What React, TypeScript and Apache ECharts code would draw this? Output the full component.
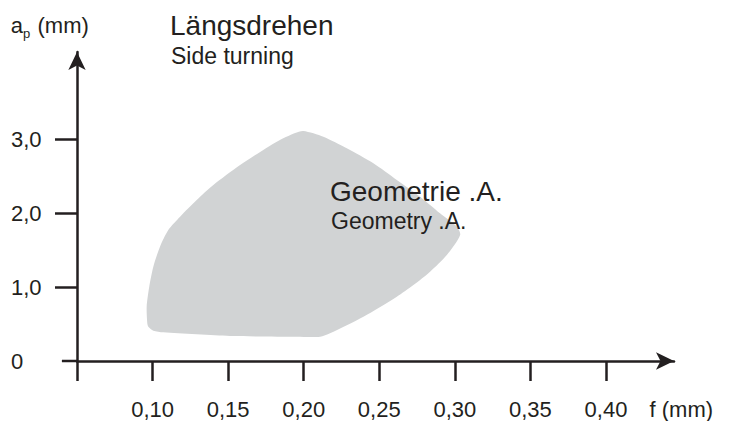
import React, { useEffect, useRef } from "react";
import * as echarts from "echarts";

// Tick positions and labels
const xTickValues = [0.05, 0.1, 0.15, 0.2, 0.25, 0.3, 0.35, 0.4];
const xLabelValues = [0.1, 0.15, 0.2, 0.25, 0.3, 0.35, 0.4];
const yTickValues = [1, 2, 3];
const yLabelValues = [0, 1, 2, 3];

// Outline of the application area "Geometrie .A." (f in mm, ap in mm)
const shapeF = [
  0.1998, 0.213, 0.2285, 0.2461, 0.2616, 0.277, 0.2902, 0.3013, 0.3035, 0.2947,
  0.2836, 0.2726, 0.2616, 0.2395, 0.2174, 0.2108, 0.1954, 0.1513, 0.1071, 0.1005,
  0.0972, 0.0965, 0.0961, 0.0978, 0.1005, 0.1049, 0.1104, 0.1182, 0.1292, 0.1402,
  0.1579, 0.1822, 0.1943,
];
const shapeA = [
  3.111, 3.034, 2.877, 2.674, 2.449, 2.223, 1.998, 1.817, 1.705, 1.434,
  1.208, 1.028, 0.87, 0.599, 0.375, 0.329, 0.329, 0.338, 0.388, 0.41,
  0.464, 0.51, 0.735, 1.005, 1.276, 1.546, 1.772, 1.952, 2.178, 2.381,
  2.652, 2.967, 3.084,
];

// x axis line extension to the left of the y axis
const axisExtF = [0.04, 0.05];

const FONT = "'Liberation Sans', Arial, Helvetica, sans-serif";
const INK = "#231f20";
const FILL = "#d1d3d4";

export default function App() {
  const ref = useRef<HTMLDivElement>(null);

  useEffect(() => {
    if (!ref.current) return;
    const chart = echarts.init(ref.current, null, { renderer: "svg" });
    const txt = (text: string, x: number, baseline: number, size: number) => ({
      type: "text",
      x,
      y: baseline - 0.3465 * size,
      z: 100,
      style: {
        text,
        fontSize: size,
        fontFamily: FONT,
        fill: INK,
        align: "left",
        verticalAlign: "middle",
      },
    });
    chart.setOption({
      animation: false,
      grid: {
        left: 77,
        right: 55,
        top: 52,
        bottom: 60,
        containLabel: false,
        outerBoundsMode: "none",
      },
      xAxis: {
        type: "value",
        min: 0.05,
        max: 0.445,
        splitLine: { show: false },
        axisLine: {
          show: true,
          onZero: false,
          symbol: ["none", "arrow"],
          symbolSize: [13, 18],
          lineStyle: { color: INK, width: 2.5 },
        },
        axisTick: {
          show: true,
          length: 20,
          inside: false,
          customValues: xTickValues,
          lineStyle: { color: INK, width: 2.5 },
        },
        axisLabel: {
          customValues: xLabelValues,
          margin: 37,
          fontSize: 22,
          fontFamily: FONT,
          color: INK,
          formatter: (v: number) => v.toFixed(2).replace(".", ","),
        },
      },
      yAxis: {
        type: "value",
        min: 0,
        max: 4.18,
        splitLine: { show: false },
        axisLine: {
          show: true,
          onZero: false,
          symbol: ["none", "arrow"],
          symbolSize: [13, 18],
          lineStyle: { color: INK, width: 2.5 },
        },
        axisTick: {
          show: true,
          length: 22,
          inside: false,
          customValues: yTickValues,
          lineStyle: { color: INK, width: 2.5 },
        },
        axisLabel: {
          customValues: yLabelValues,
          margin: 66,
          align: "left",
          fontSize: 22,
          fontFamily: FONT,
          color: INK,
          formatter: (v: number) => (v === 0 ? "0" : v.toFixed(1).replace(".", ",")),
        },
      },
      series: [
        {
          type: "custom",
          data: [[0.2, 1.5]],
          z: 1,
          renderItem: (params: any, api: any) => {
            if (params.dataIndex !== 0) return null;
            const pts = shapeF.map((f, i) => api.coord([f, shapeA[i]]));
            return {
              type: "polygon",
              shape: { points: pts, smooth: 0.25 },
              style: { fill: FILL, stroke: "none" },
            };
          },
        },
        {
          type: "custom",
          data: [[0.05, 0]],
          z: 5,
          renderItem: (params: any, api: any) => {
            const p0 = api.coord([axisExtF[0], 0]);
            const p1 = api.coord([axisExtF[1], 0]);
            return {
              type: "line",
              shape: { x1: p0[0], y1: p0[1], x2: p1[0], y2: p1[1] },
              style: { stroke: INK, lineWidth: 2.5 },
            };
          },
        },
      ],
      graphic: [
        txt("a", 10.8, 33.3, 22),
        txt("p", 23, 38.5, 13),
        txt("(mm)", 37.5, 33, 22),
        txt("Längsdrehen", 170, 35, 28),
        txt("Side turning", 171, 63.5, 23),
        txt("Geometrie .A.", 330, 201.7, 28),
        txt("Geometry .A.", 331, 229, 23),
        txt("f (mm)", 649.5, 416.8, 22),
      ],
    });
    return () => chart.dispose();
  }, []);

  return (
    <div
      ref={ref}
      style={{ position: "absolute", left: 0, top: 0, width: 729, height: 421 }}
    />
  );
}
